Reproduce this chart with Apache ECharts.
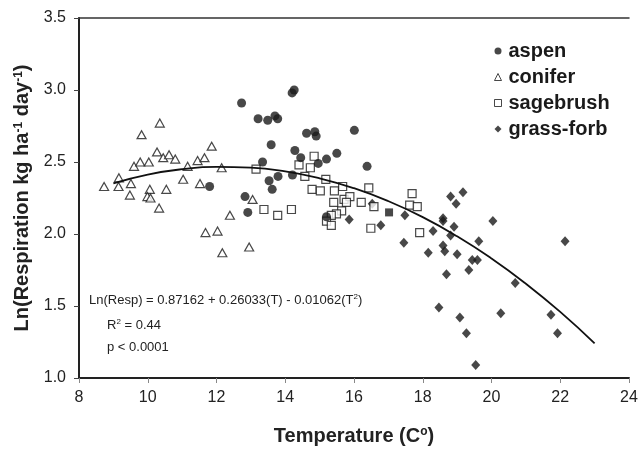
<!DOCTYPE html>
<html><head><meta charset="utf-8">
<script src="https://cdn.jsdelivr.net/npm/echarts@6/dist/echarts.min.js"></script>
<style>html,body{margin:0;padding:0;background:#fff}#c{width:641px;height:453px}</style>
</head><body><div id="c"></div>
<script>
const xTicks = [8, 10, 12, 14, 16, 18, 20, 22, 24];
const yTicks = [1.0, 1.5, 2.0, 2.5, 3.0, 3.5];
const aspen = [[11.80,2.33],[12.73,2.91],[14.26,3.00],[14.20,2.98],[13.21,2.80],[13.49,2.79],[13.70,2.82],[13.78,2.80],[14.62,2.70],[14.86,2.71],[14.90,2.68],[16.01,2.72],[13.59,2.62],[14.28,2.58],[14.45,2.53],[15.50,2.56],[15.20,2.52],[14.96,2.49],[13.34,2.50],[16.38,2.47],[13.79,2.40],[14.21,2.41],[13.53,2.37],[13.62,2.31],[12.83,2.26],[12.91,2.15],[15.20,2.12]];
const conifer = [[8.73,2.33],[9.16,2.39],[9.15,2.33],[9.51,2.35],[9.48,2.27],[9.60,2.47],[9.78,2.50],[10.03,2.50],[9.82,2.69],[10.35,2.77],[10.06,2.31],[9.99,2.26],[10.08,2.25],[10.33,2.18],[10.27,2.57],[10.45,2.53],[10.62,2.55],[10.80,2.52],[10.54,2.31],[11.03,2.38],[11.16,2.47],[11.45,2.51],[11.65,2.53],[11.86,2.61],[11.52,2.35],[12.15,2.46],[11.68,2.01],[12.03,2.02],[12.39,2.13],[12.17,1.87],[12.95,1.91],[13.05,2.24]];
const sagebrush = [[13.15,2.45],[14.40,2.48],[14.84,2.54],[14.73,2.46],[14.57,2.40],[15.18,2.38],[15.67,2.33],[16.43,2.32],[14.78,2.31],[15.02,2.30],[15.43,2.30],[13.38,2.17],[13.78,2.13],[14.18,2.17],[15.41,2.22],[15.71,2.24],[15.88,2.26],[15.78,2.22],[16.21,2.22],[16.58,2.19],[15.64,2.16],[15.49,2.14],[15.34,2.13],[15.20,2.09],[15.34,2.06],[16.49,2.04],[17.69,2.28],[17.62,2.20],[17.84,2.19],[17.91,2.01]];
const filledSquare = [[17.02,2.15]];
const grassForb = [[16.53,2.21],[15.86,2.10],[16.78,2.06],[17.48,2.13],[17.45,1.94],[18.30,2.02],[18.59,2.11],[18.59,2.09],[18.81,2.26],[18.97,2.21],[18.91,2.05],[18.81,1.99],[18.59,1.92],[18.64,1.88],[18.16,1.87],[19.00,1.86],[18.69,1.72],[19.17,2.29],[19.63,1.95],[20.04,2.09],[22.14,1.95],[19.44,1.82],[19.59,1.82],[19.34,1.75],[20.69,1.66],[18.47,1.49],[19.08,1.42],[20.27,1.45],[21.73,1.44],[19.27,1.31],[21.92,1.31],[19.54,1.09]];
const fitCurve = [[9.0,2.352],[10,2.413],[11,2.450],[12,2.466],[13,2.461],[14,2.435],[15,2.387],[16,2.318],[17,2.228],[18,2.117],[19,1.984],[20,1.830],[21,1.655],[22,1.459],[23,1.241]];

const chart = echarts.init(document.getElementById('c'), null, {renderer:'canvas'});
const FONT = 'Liberation Sans, Arial, sans-serif';
const ink = '#1a1a1a';
const supStyle = {fontSize:12,fontWeight:'bold',verticalAlign:'top',padding:[0,0,9,0],color:'#222'};
chart.setOption({
  backgroundColor:'#fff',
  animation:false,
  textStyle:{fontFamily:FONT},
  grid:{left:79,right:12,top:18,bottom:75},
  xAxis:[{
    type:'value',min:xTicks[0],max:xTicks[xTicks.length-1],interval:2,
    axisLine:{show:true,onZero:false,lineStyle:{color:'#222',width:2}},
    axisTick:{show:true,length:5,lineStyle:{color:'#888'}},
    axisLabel:{fontSize:16,color:'#222',margin:12,fontFamily:FONT},
    splitLine:{show:false},
    name:'Temperature (C{sup|o})',nameLocation:'middle',nameGap:48,
    nameTextStyle:{fontSize:20,fontWeight:'bold',color:'#222',fontFamily:FONT,rich:{sup:supStyle}}
  },{
    type:'value',position:'top',min:8,max:24,
    axisLine:{show:true,onZero:false,lineStyle:{color:'#333',width:1.5}},
    axisTick:{show:false},axisLabel:{show:false},splitLine:{show:false}
  }],
  yAxis:{
    type:'value',min:yTicks[0],max:yTicks[yTicks.length-1],interval:0.5,
    axisLine:{show:true,onZero:false,lineStyle:{color:'#222',width:2}},
    axisTick:{show:true,length:5,lineStyle:{color:'#444'}},
    axisLabel:{fontSize:16,color:'#222',margin:13,fontFamily:FONT,formatter:v=>v.toFixed(1)},
    splitLine:{show:false},
    name:'Ln(Respiration kg ha{sup|-1} day{sup|-1})',nameLocation:'middle',nameGap:45,nameRotate:90,
    nameTextStyle:{fontSize:20,fontWeight:'bold',color:'#222',fontFamily:FONT,rich:{sup:supStyle}}
  },
  legend:{
    orient:'vertical',left:489,top:36,itemGap:6,itemWidth:7,itemHeight:7,
    textStyle:{fontSize:20,fontWeight:'bold',color:'#1a1a1a',fontFamily:FONT,padding:[0,0,0,2]},
    data:[
      {name:'aspen',icon:'circle'},
      {name:'conifer',icon:'triangle',itemStyle:{color:'#fff',borderColor:ink,borderWidth:1}},
      {name:'sagebrush',icon:'rect',itemStyle:{color:'#fff',borderColor:ink,borderWidth:1}},
      {name:'grass-forb',icon:'diamond'}
    ]
  },
  graphic:[
    {type:'text',left:89,top:293,style:{text:'Ln(Resp) = 0.87162 + 0.26033(T) - 0.01062(T{s|2})',fill:'#222',font:'13px '+FONT,
      rich:{s:{fontSize:8,verticalAlign:'top',padding:[0,0,6,0],fill:'#222'}}}},
    {type:'text',left:107,top:318,style:{text:'R{s|2} = 0.44',fill:'#222',font:'13px '+FONT,
      rich:{s:{fontSize:8,verticalAlign:'top',padding:[0,0,6,0],fill:'#222'}}}},
    {type:'text',left:107,top:341,style:{text:'p < 0.0001',fill:'#222',font:'13px '+FONT}}
  ],
  series:[
    {name:'grass-forb',type:'scatter',data:grassForb,symbol:'diamond',symbolSize:[9,10],itemStyle:{color:ink}},
    {name:'sagebrush',type:'scatter',data:sagebrush,symbol:'rect',symbolSize:8,itemStyle:{color:'#fff',borderColor:ink,borderWidth:1.2}},
    {name:'sagebrush-filled',type:'scatter',data:filledSquare,symbol:'rect',symbolSize:8,itemStyle:{color:ink}},
    {name:'conifer',type:'scatter',data:conifer,symbol:'triangle',symbolSize:[9,8],itemStyle:{color:'#fff',borderColor:ink,borderWidth:1.2}},
    {name:'aspen',type:'scatter',data:aspen,symbol:'circle',symbolSize:9,itemStyle:{color:ink}},
    {name:'fit',type:'line',data:fitCurve,smooth:true,showSymbol:false,symbol:'none',z:5,lineStyle:{color:'#111',width:1.8},silent:true}
  ]
});
</script></body></html>
